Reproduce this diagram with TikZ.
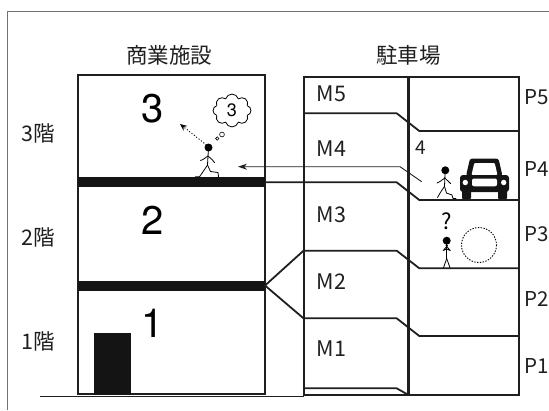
\documentclass[tikz,border=0pt]{standalone}
\usepackage{fontspec}
\setmainfont{Noto Sans CJK JP}
\newfontfamily\digitfont{TeX Gyre Heros}
\usetikzlibrary{arrows.meta,shapes.symbols}

\begin{document}
\begin{tikzpicture}[x=1pt,y=-1pt,
  wall/.style={line width=2pt, draw=black!88},
  lvl/.style={line width=1.8pt, draw=black!88, line join=round},
  lbl/.style={font=\fontsize{21.5}{21.5}\selectfont, text=black!88, inner sep=0pt},
  plbl/.style={font=\fontsize{20.5}{20.5}\selectfont, text=black!88, inner sep=0pt, anchor=west},
  small/.style={font=\fontsize{19}{19}\selectfont, text=black!88, inner sep=0pt},
  bignum/.style={font=\digitfont\fontsize{40}{40}\selectfont, inner sep=0pt},
  stick/.style={line width=0.8pt, line cap=round, line join=round},
  slab/.style={fill=black!92}]
\useasboundingbox (0,0) rectangle (549,410);

% outer frame
\draw[black!55, line width=0.8pt] (7.5,410) -- (7.5,11) -- (549,11);

% titles
\node[lbl] (tshop) at (169,55) {商業施設};
\node[lbl] (tpark) at (408.5,55) {駐車場};

% floor names
\node[lbl] (f3) at (38.5,133) {3階};
\node[lbl] (f2) at (38.5,237) {2階};
\node[lbl] (f1) at (38.5,341) {1階};

% ground line
\coordinate (g0) at (40,396.7);
\coordinate (g1) at (303.5,396.7);
\draw[line width=0.9pt, black!88] (g0) -- (g1);

% commercial building
\draw[wall] (77.7,75) rectangle (265,394.3);
\fill[slab] (77.7,177) rectangle (265,187.3);
\fill[slab] (77.7,280.5) rectangle (265,290.5);
\fill[slab] (94,333) rectangle (130.7,395.3);
\node[bignum] (n3) at (153,109) {3};
\node[bignum] (n2) at (153,220) {2};
\node[bignum] (n1) at (153,323) {1};

% parking garage
\draw[wall] (303.5,76.7) rectangle (519,395);
\draw[line width=2.6pt, black!88] (408.5,76.7) -- (408.5,395);

% split levels with ramps
\coordinate (slabA) at (265,182.3);
\coordinate (slabB) at (265,285.5);
\coordinate (m3m2) at (303.5,250.7);
\coordinate (m2m1) at (303.5,318.3);
\draw[lvl] (303.5,113.3) -- (396.7,113.3) -- (419.3,131) -- (519,131);
\draw[lvl] (slabA) -- (396.7,182.3) -- (419.3,200) -- (519,200);
\draw[lvl] (m3m2) -- (396.7,250.7) -- (419.3,268.3) -- (519,268.3);
\draw[lvl] (m2m1) -- (396.7,318.3) -- (419.3,336) -- (519,336);
\draw[lvl] (303.5,388.3) -- (396.7,388.3) -- (408.5,395);
\draw[lvl] (m3m2) -- (slabB) -- (m2m1);

% level labels
\node[lbl, anchor=west] (m5) at (316.5,93.3) {M5};
\node[lbl, anchor=west] (m4) at (316.5,148.3) {M4};
\node[lbl, anchor=west] (m3) at (316.5,215) {M3};
\node[lbl, anchor=west] (m2) at (316.5,281.7) {M2};
\node[lbl, anchor=west] (m1) at (316.5,348.3) {M1};
\node[plbl] (p5) at (524.5,96.7) {P5};
\node[plbl] (p4) at (524.5,169) {P4};
\node[plbl] (p3) at (524.5,234) {P3};
\node[plbl] (p2) at (524.5,299) {P2};
\node[plbl] (p1) at (524.5,366) {P1};
\node[small, anchor=west] (four) at (415,148) {4};

% walking route from the car to the shop floor
\coordinate (rStart) at (421.7,181.7);
\coordinate (rBend) at (400,166.7);
\coordinate (rEnd) at (238,166.7);
\draw[line width=0.9pt, black!88, -{Stealth[length=9pt,width=6pt]}]
  (rStart) -- (rBend) -- (rEnd);

% car, front view
\begin{scope}[black!92]
  \fill[rounded corners=2.5pt] (466,176) -- (470,158.5) -- (498.5,158.5) -- (502.5,176) -- cycle;
  \fill[white, rounded corners=1pt] (471.5,175) -- (474.3,163) -- (494.7,163) -- (497.5,175) -- cycle;
  \fill[rounded corners=3pt] (460,175) rectangle (509,192);
  \fill[rounded corners=1pt] (462,190) rectangle (471,199.2);
  \fill[rounded corners=1pt] (498,190) rectangle (507,199.2);
  \fill[white] (465.3,182.5) circle (2.7);
  \fill[white] (503.7,182.5) circle (2.7);
  \fill[white, rounded corners=2pt] (472,178.5) rectangle (497,186.3);
\end{scope}

% driver walking away from the car
\fill (445.3,170.3) circle (4);
\draw[stick] (445,174) -- (444.5,186.5);
\draw[stick] (444.8,178) -- (440,181.5) -- (437,183);
\draw[stick] (444.8,178) -- (448.5,181.5) -- (450.5,183.5);
\draw[stick] (444.5,186.5) -- (441,191.5) -- (437.5,197.5);
\draw[stick] (444.5,186.5) -- (446.5,193) -- (452,195) -- (453,198.5) -- (456,198.5);

% searching person
\node[font=\fontsize{22}{22}\selectfont, inner sep=0pt] (q) at (446.7,221) {?};
\fill (446.7,240.7) circle (4);
\draw[stick] (446.7,244) -- (446.7,258.5);
\draw[stick] (446.7,249) -- (443.2,250.5) -- (447.5,245.5);
\draw[stick] (446.7,249) -- (450.2,250.5) -- (446,245.5);
\draw[stick] (446.7,258.5) -- (443.5,267.8);
\draw[stick] (446.7,258.5) -- (450,267.8);
\draw[line width=0.9pt, dash pattern=on 1.4pt off 1.4pt] (479,245) circle (17.5);

% person arriving on the third floor
\fill (208.5,147.5) circle (4);
\draw[stick] (208.3,151) -- (207.5,165);
\draw[stick] (208,156) -- (203,159.5) -- (200.5,160.5);
\draw[stick] (208,156) -- (212,159.5) -- (214.5,162.5);
\draw[stick] (207.5,165) -- (203.5,171) -- (199.5,176.8) -- (195.5,176.8);
\draw[stick] (207.5,165) -- (210.5,171.5) -- (218,172.5) -- (218.5,176.8);

% thought bubble and looking direction
\node[cloud, draw, line width=0.8pt, cloud puffs=8, aspect=1.1,
      minimum width=38pt, minimum height=33pt, inner sep=0pt,
      font=\digitfont\fontsize{18}{18}\selectfont] (think) at (232,110.5) {3};
\draw[line width=0.6pt] (222,134.5) circle (2.4);
\draw[line width=0.6pt] (217.3,138.5) circle (1.7);
\coordinate (look0) at (206.5,145);
\coordinate (look1) at (180,124);
\draw[dotted, line width=1pt, -{Stealth[open,length=7pt,width=6pt]}] (look0) -- (look1);

\end{tikzpicture}
\end{document}
